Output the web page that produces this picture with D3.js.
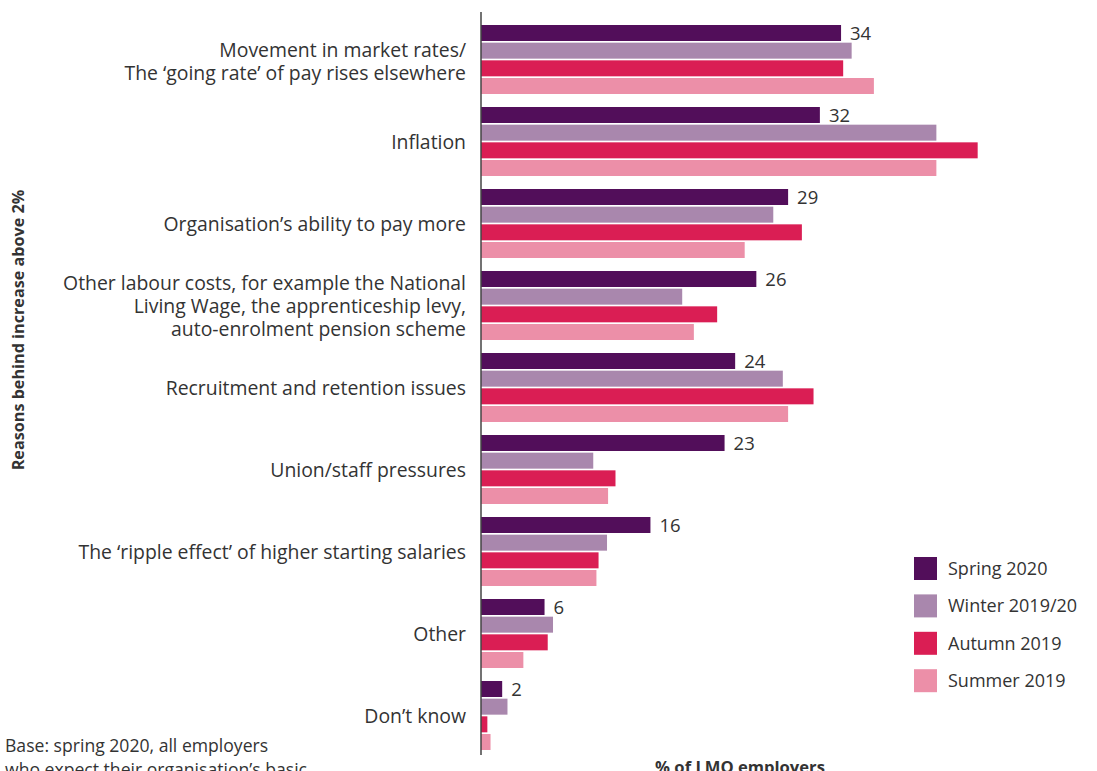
<!DOCTYPE html>
<html>
<head>
<meta charset="utf-8">
<script src="https://cdn.jsdelivr.net/npm/d3@7"></script>
<style>
  html, body { margin: 0; padding: 0; background: #fff; }
  svg { display: block; }
  text { font-family: "Open Sans", "DejaVu Sans", sans-serif; fill: #333; }
</style>
</head>
<body>
<svg id="chart" width="1097" height="771"></svg>
<script>
// Reasons behind expected basic pay increases above 2%
const categories = [
  ["Movement in market rates/", "The \u2018going rate\u2019 of pay rises elsewhere"],
  ["Inflation"],
  ["Organisation\u2019s ability to pay more"],
  ["Other labour costs, for example the National", "Living Wage, the apprenticeship levy,", "auto-enrolment pension scheme"],
  ["Recruitment and retention issues"],
  ["Union/staff pressures"],
  ["The \u2018ripple effect\u2019 of higher starting salaries"],
  ["Other"],
  ["Don\u2019t know"]
];

const seriesNames = ["Spring 2020", "Winter 2019/20", "Autumn 2019", "Summer 2019"];
const seriesColors = ["#520e5a", "#a987ad", "#da1e54", "#ec8fa8"];

const spring2020 = [34, 32, 29, 26, 24, 23, 16, 6, 2];
const winter2019 = [35, 43, 27.6, 19, 28.5, 10.6, 11.9, 6.8, 2.5];
const autumn2019 = [34.2, 46.9, 30.3, 22.3, 31.4, 12.7, 11.1, 6.3, 0.6];
const summer2019 = [37.1, 43, 24.9, 20.1, 29, 12, 10.9, 4, 0.9];

const seriesValues = [spring2020, winter2019, autumn2019, summer2019];
const labelledSeries = 0; // only the latest survey carries value labels

const svg = d3.select("#chart");

const x = d3.scaleLinear().domain([0, 50]).range([481, 481 + 50 * 10.59]);

const y = d3.scaleBand()
  .domain(d3.range(categories.length))
  .range([25, 750])
  .paddingInner(13 / 82)
  .paddingOuter(0);

const ySub = d3.scaleBand()
  .domain(d3.range(seriesNames.length))
  .range([0, y.bandwidth()])
  .paddingInner(0.095);

// bars
const groups = svg.append("g").selectAll("g")
  .data(categories.map((c, i) => i))
  .join("g")
  .attr("transform", i => `translate(0,${y(i)})`);

groups.selectAll("rect")
  .data(i => seriesValues.map((vals, s) => ({ s, v: vals[i] })))
  .join("rect")
  .attr("x", x(0))
  .attr("y", d => ySub(d.s))
  .attr("width", d => x(d.v) - x(0))
  .attr("height", ySub.bandwidth())
  .attr("fill", d => seriesColors[d.s]);

// value labels on the Spring 2020 bars
groups.append("text")
  .attr("x", i => x(seriesValues[labelledSeries][i]) + 9)
  .attr("y", ySub(labelledSeries) + ySub.bandwidth() / 2 + 7)
  .attr("font-size", 18.5)
  .attr("fill", "#3a3a3a")
  .text(i => seriesValues[labelledSeries][i]);

// category labels
const lineGap = 23;
groups.append("text")
  .attr("text-anchor", "end")
  .attr("font-size", 19.4)
  .attr("fill", "#333")
  .each(function (i) {
    const lines = categories[i];
    const n = lines.length;
    const mid = y.bandwidth() / 2 + 7 + (n === 2 ? 1.5 : 0);
    d3.select(this).selectAll("tspan")
      .data(lines)
      .join("tspan")
      .attr("x", 466)
      .attr("y", (d, k) => mid + (k - (n - 1) / 2) * lineGap)
      .text(d => d);
  });

// vertical axis line
svg.append("line")
  .attr("x1", x(0)).attr("x2", x(0))
  .attr("y1", 12).attr("y2", 755)
  .attr("stroke", "#444")
  .attr("stroke-width", 1.5);

// legend
const legend = svg.append("g").attr("transform", "translate(914,557)");
const legendRow = legend.selectAll("g")
  .data(seriesNames)
  .join("g")
  .attr("transform", (d, i) => `translate(0,${i * 37.4})`);
legendRow.append("rect")
  .attr("width", 23).attr("height", 23)
  .attr("fill", (d, i) => seriesColors[i]);
legendRow.append("text")
  .attr("x", 34).attr("y", 18)
  .attr("font-size", 18)
  .attr("fill", "#3a3a3a")
  .text(d => d);

// axis titles
svg.append("text")
  .attr("transform", "translate(24,330) rotate(-90)")
  .attr("text-anchor", "middle")
  .attr("font-size", 16.2)
  .attr("font-weight", 700)
  .attr("fill", "#333")
  .text("Reasons behind increase above 2%");

svg.append("text")
  .attr("x", 740).attr("y", 773)
  .attr("text-anchor", "middle")
  .attr("font-size", 16.6)
  .attr("font-weight", 700)
  .attr("fill", "#333")
  .text("% of LMO employers");

// base note
const note = svg.append("text").attr("font-size", 17.6).attr("fill", "#333");
note.append("tspan").attr("x", 5).attr("y", 752).text("Base: spring 2020, all employers");
note.append("tspan").attr("x", 5).attr("y", 776).text("who expect their organisation\u2019s basic");
</script>
</body>
</html>
